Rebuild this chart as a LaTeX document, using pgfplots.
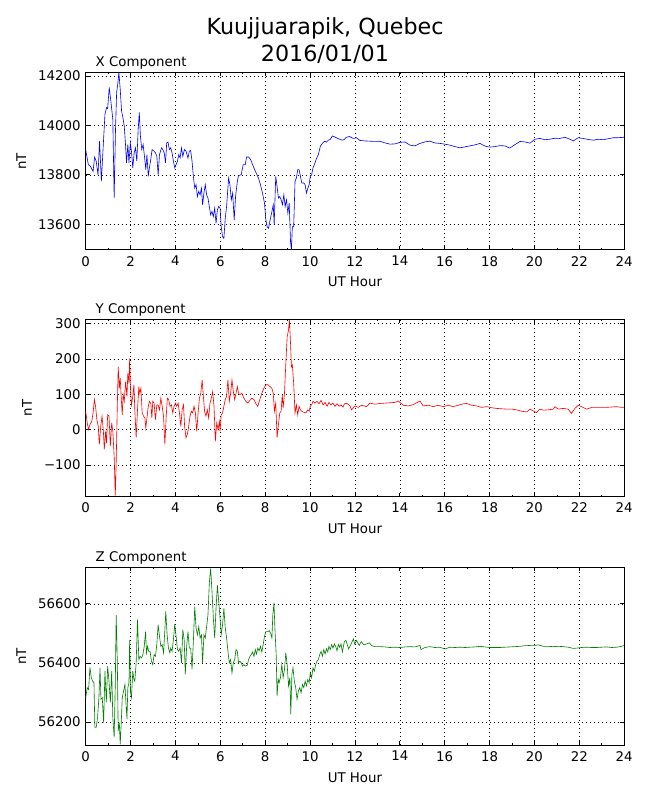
\documentclass[border=0pt]{standalone}
\usepackage{pgfplots}
\pgfplotsset{compat=1.18}
\usepackage{fontspec}
\setmainfont{DejaVu Sans}
\begin{document}
\begin{tikzpicture}
\path[use as bounding box] (0,0) rectangle (585pt,720pt);
\pgfplotsset{
  magstyle/.style={
    scale only axis, width=484.7pt, height=159.8pt,
    xmin=0, xmax=24, xtick={0,2,...,24}, minor x tick num=1,
    tick align=inside, major tick length=3.6pt, minor tick length=1.8pt,
    grid=major, major grid style={black, line width=0.5pt, dash pattern=on 0.9pt off 2.7pt},
    axis line style={line width=0.9pt},
    every tick/.style={black, line width=0.6pt},
    scaled y ticks=false,
    tick label style={font=\fontsize{12}{14}\selectfont},
    xticklabel style={yshift=-2pt},
    yticklabel style={xshift=-1pt, /pgf/number format/fixed},
    label style={font=\fontsize{12}{14}\selectfont},
    /pgf/number format/assume math mode=true,
    /pgf/number format/1000 sep={},
    xlabel={UT Hour}, ylabel={nT},
    xlabel style={at={(axis description cs:0.5,0)}, anchor=base, yshift=-33.3pt},
    ylabel shift=4pt,
    title style={at={(0,1)}, anchor=base west, xshift=5.5pt, yshift=-0.9pt, font=\fontsize{12}{14}\selectfont},
    anchor=south west,
  }
}
\node[anchor=base, font=\fontsize{20}{24}\selectfont] at (292.5pt,689.1pt) {Kuujjuarapik, Quebec};
\node[anchor=base, font=\fontsize{20}{24}\selectfont] at (292.5pt,664.5pt) {2016/01/01};

% X component
\begin{axis}[magstyle, at={(77.1pt,495pt)}, ymin=13496, ymax=14214,
  ytick={13600,13800,14000,14200}, title={X Component}]
\addplot[blue, line width=0.55pt] coordinates {
(0.00,13902)(0.12,13841)(0.21,13835)(0.27,13824)(0.33,13814)(0.40,13872)(0.47,13855)(0.55,13800)
(0.62,13936)(0.70,13774)(0.77,13896)(0.86,14045)(0.93,14072)(0.98,14068)(1.05,14153)(1.13,14092)
(1.21,14024)(1.27,13706)(1.33,13984)(1.38,14133)(1.44,14174)(1.48,14214)(1.54,14146)(1.60,14058)
(1.66,14031)(1.72,13997)(1.78,13916)(1.82,13848)(1.88,13923)(1.93,13848)(1.99,13929)(2.04,13896)
(2.10,13828)(2.16,13889)(2.22,13909)(2.28,13855)(2.34,13984)(2.39,14052)(2.44,13957)(2.50,13902)
(2.56,13923)(2.62,13875)(2.68,13821)(2.73,13882)(2.79,13794)(2.84,13828)(2.90,13862)(2.96,13902)
(3.04,13896)(3.11,13889)(3.17,13875)(3.23,13800)(3.29,13882)(3.38,13909)(3.44,13902)(3.50,13889)
(3.56,13848)(3.61,13929)(3.67,13932)(3.73,13902)(3.79,13909)(3.85,13889)(3.91,13855)(3.97,13828)
(4.03,13841)(4.09,13855)(4.15,13882)(4.21,13868)(4.27,13909)(4.33,13875)(4.40,13902)(4.47,13896)
(4.56,13868)(4.62,13896)(4.68,13898)(4.74,13855)(4.80,13794)(4.86,13746)(4.92,13760)(4.98,13712)
(5.04,13733)(5.10,13719)(5.16,13746)(5.21,13679)(5.27,13726)(5.33,13760)(5.39,13719)(5.45,13706)
(5.51,13672)(5.57,13638)(5.63,13652)(5.69,13631)(5.75,13665)(5.81,13604)(5.87,13658)(5.93,13672)
(5.99,13665)(6.04,13590)(6.10,13550)(6.16,13543)(6.22,13624)(6.28,13672)(6.37,13787)(6.43,13760)
(6.49,13699)(6.55,13726)(6.62,13618)(6.68,13712)(6.76,13774)(6.81,13797)(6.93,13800)(7.02,13841)
(7.11,13841)(7.17,13872)(7.26,13872)(7.35,13862)(7.44,13841)(7.53,13821)(7.61,13805)(7.70,13787)
(7.79,13760)(7.88,13726)(7.97,13685)(8.03,13618)(8.09,13590)(8.15,13584)(8.22,13618)(8.30,13652)
(8.36,13679)(8.40,13597)(8.47,13794)(8.53,13753)(8.59,13706)(8.65,13712)(8.71,13699)(8.77,13679)
(8.83,13719)(8.89,13672)(8.95,13699)(9.01,13645)(9.07,13685)(9.13,13529)(9.17,13497)(9.21,13590)
(9.27,13590)(9.33,13774)(9.39,13787)(9.45,13821)(9.51,13821)(9.57,13794)(9.63,13767)(9.72,13767)
(9.78,13760)(9.84,13726)(9.90,13746)(9.96,13760)(10.01,13794)(10.07,13800)(10.13,13828)(10.19,13841)
(10.28,13864)(10.37,13882)(10.46,13916)(10.55,13927)(10.64,13936)(10.73,13932)(10.81,13940)(10.90,13943)
(10.99,13957)(11.08,13954)(11.17,13950)(11.26,13946)(11.35,13943)(11.44,13940)(11.53,13943)
(11.60,13951)(11.75,13955)(11.93,13947)(12.07,13950)(12.22,13939)(12.45,13937)(12.67,13936)(12.90,13935)
(13.10,13936)(13.34,13929)(13.56,13924)(13.78,13925)(14.00,13931)(14.23,13933)(14.45,13920)(14.67,13917)
(14.90,13927)(15.12,13933)(15.34,13936)(15.56,13929)(15.79,13927)(16.00,13924)(16.23,13920)(16.46,13914)
(16.68,13909)(16.90,13913)(17.12,13917)(17.35,13921)(17.57,13927)(17.80,13916)(18.00,13912)(18.24,13914)
(18.46,13918)(18.68,13917)(18.90,13908)(19.13,13922)(19.35,13935)(19.57,13933)(19.80,13928)(20.02,13944)
(20.24,13947)(20.47,13942)(20.69,13944)(20.91,13948)(21.13,13947)(21.36,13952)(21.58,13944)(21.73,13937)
(21.95,13950)(22.17,13947)(22.40,13943)(22.62,13940)(22.84,13944)(23.06,13942)(23.29,13946)(23.51,13950)
(23.73,13950)(24.00,13952)
};
\end{axis}

% Y component
\begin{axis}[magstyle, at={(77.1pt,273pt)}, ymin=-190, ymax=313,
  ytick={-100,0,100,200,300}, yticklabels={−100,0,100,200,300}, title={Y Component}]
\addplot[red, line width=0.55pt] coordinates {
(0.00,52)(0.07,19)(0.13,0)(0.19,14)(0.27,23)(0.33,47)(0.39,85)(0.44,66)(0.50,28)(0.56,9)
(0.61,-42)(0.67,9)(0.73,38)(0.79,-5)(0.83,-56)(0.89,-5)(0.93,-38)(0.98,42)(1.04,38)(1.10,-47)
(1.16,19)(1.21,-5)(1.27,-75)(1.32,-187)(1.36,-94)(1.41,66)(1.45,178)(1.50,117)(1.54,146)(1.59,85)
(1.63,42)(1.67,99)(1.72,80)(1.78,136)(1.84,94)(1.88,160)(1.93,131)(1.96,202)(2.00,113)(2.04,70)
(2.10,94)(2.15,127)(2.19,56)(2.25,-23)(2.31,56)(2.37,122)(2.41,103)(2.46,117)(2.52,47)(2.58,38)
(2.64,33)(2.68,5)(2.74,38)(2.79,66)(2.84,80)(2.90,75)(2.95,33)(2.99,80)(3.05,75)(3.11,28)
(3.17,70)(3.23,70)(3.29,56)(3.35,89)(3.41,66)(3.47,38)(3.53,-42)(3.59,38)(3.64,89)(3.70,85)
(3.76,66)(3.82,70)(3.88,47)(3.94,66)(4.00,75)(4.06,66)(4.12,75)(4.18,47)(4.24,9)(4.30,56)
(4.36,70)(4.41,9)(4.47,-23)(4.53,-14)(4.59,9)(4.65,38)(4.71,52)(4.77,47)(4.83,66)(4.89,47)
(4.95,-5)(5.01,47)(5.07,89)(5.13,103)(5.19,141)(5.24,99)(5.30,52)(5.36,38)(5.42,56)(5.48,33)
(5.54,75)(5.60,89)(5.66,108)(5.72,66)(5.78,-33)(5.84,19)(5.90,0)(5.96,23)(5.99,-5)(6.04,42)
(6.10,47)(6.16,66)(6.22,85)(6.28,94)(6.34,141)(6.40,80)(6.46,103)(6.52,141)(6.58,108)(6.64,85)
(6.70,103)(6.76,122)(6.81,103)(6.87,99)(6.96,103)(7.05,89)(7.14,80)(7.23,75)(7.32,83)(7.41,89)
(7.50,85)(7.59,73)(7.67,66)(7.76,85)(7.85,103)(7.94,117)(8.03,127)(8.12,127)(8.21,122)(8.30,117)
(8.36,103)(8.41,52)(8.47,75)(8.53,-23)(8.59,14)(8.65,47)(8.71,52)(8.76,99)(8.80,61)(8.86,103)
(8.92,188)(8.98,263)(9.04,282)(9.08,310)(9.13,244)(9.17,178)(9.21,183)(9.27,131)(9.33,47)(9.39,70)
(9.45,42)(9.51,66)(9.57,56)(9.63,52)(9.72,49)(9.81,47)(9.90,56)(9.96,52)(10.01,66)(10.07,70)
(10.13,80)(10.22,75)(10.31,80)(10.40,73)(10.49,83)(10.58,70)(10.67,77)(10.76,66)(10.84,77)(10.93,70)
(11.02,75)(11.11,66)(11.20,73)(11.29,66)(11.38,70)(11.47,64)(11.53,73)
(11.63,75)(11.78,67)(11.85,56)(12.00,67)(12.15,63)(12.30,69)(12.52,65)(12.67,75)(12.89,72)(13.11,74)
(13.34,75)(13.56,76)(13.78,77)(13.93,81)(14.15,69)(14.38,67)(14.60,71)(14.90,81)(15.04,67)(15.27,69)
(15.49,65)(15.71,69)(15.94,65)(16.16,69)(16.38,65)(16.60,69)(16.83,73)(16.98,74)(17.20,69)(17.42,67)
(17.64,63)(17.87,65)(18.09,62)(18.31,60)(18.53,59)(18.76,58)(18.98,58)(19.20,56)(19.43,52)(19.65,50)
(19.80,58)(19.95,53)(20.09,48)(20.24,58)(20.39,55)(20.61,56)(20.84,58)(20.91,65)(21.06,58)(21.28,60)
(21.50,58)(21.65,46)(21.80,60)(21.95,69)(22.10,65)(22.32,58)(22.55,63)(22.77,63)(22.99,63)(23.21,63)
(23.44,64)(23.66,65)(23.88,63)(24.00,63)
};
\end{axis}

% Z component
\begin{axis}[magstyle, at={(77.1pt,49.5pt)}, ymin=56122, ymax=56723,
  ytick={56200,56400,56600}, title={Z Component}]
\addplot[black!50!green, line width=0.55pt] coordinates {
(0.00,56282)(0.07,56316)(0.13,56310)(0.19,56385)(0.25,56350)(0.31,56338)(0.37,56333)(0.41,56182)
(0.47,56182)(0.53,56215)(0.59,56282)(0.64,56383)(0.68,56277)(0.74,56282)(0.80,56198)(0.86,56372)
(0.92,56266)(0.98,56389)(1.04,56338)(1.10,56266)(1.16,56372)(1.21,56215)(1.27,56148)(1.32,56327)
(1.36,56562)(1.41,56406)(1.45,56170)(1.50,56198)(1.54,56124)(1.59,56204)(1.63,56282)(1.69,56305)
(1.75,56327)(1.79,56271)(1.84,56210)(1.88,56316)(1.93,56333)(1.96,56478)(2.00,56299)(2.04,56282)
(2.10,56372)(2.15,56344)(2.19,56338)(2.25,56400)(2.31,56546)(2.37,56411)(2.43,56422)(2.49,56417)
(2.55,56428)(2.61,56456)(2.67,56506)(2.71,56434)(2.76,56456)(2.81,56439)(2.87,56439)(2.93,56406)
(2.99,56394)(3.05,56428)(3.11,56422)(3.17,56462)(3.23,56529)(3.29,56490)(3.35,56456)(3.41,56462)
(3.47,56434)(3.53,56512)(3.57,56574)(3.63,56495)(3.69,56450)(3.75,56434)(3.79,56450)(3.85,56439)
(3.91,56478)(3.97,56531)(4.03,56490)(4.09,56445)(4.15,56439)(4.21,56450)(4.27,56400)(4.33,56512)
(4.39,56478)(4.44,56361)(4.50,56456)(4.56,56506)(4.62,56450)(4.68,56450)(4.74,56378)(4.80,56473)
(4.86,56590)(4.92,56518)(4.98,56495)(5.04,56523)(5.10,56484)(5.16,56495)(5.21,56400)(5.27,56495)
(5.33,56484)(5.39,56523)(5.45,56562)(5.51,56669)(5.57,56720)(5.63,56641)(5.69,56551)(5.75,56484)
(5.81,56585)(5.87,56663)(5.93,56607)(5.99,56551)(6.04,56495)(6.10,56529)(6.16,56585)(6.22,56518)
(6.28,56484)(6.34,56439)(6.40,56400)(6.46,56411)(6.52,56366)(6.58,56400)(6.64,56411)(6.70,56445)
(6.76,56439)(6.81,56400)(6.87,56406)(6.93,56400)(6.99,56389)(7.05,56394)(7.11,56389)(7.20,56392)
(7.26,56411)(7.32,56422)(7.38,56428)(7.44,56437)(7.50,56422)(7.56,56445)(7.61,56430)(7.67,56450)
(7.73,56441)(7.79,56456)(7.85,56437)(7.91,56462)(7.97,56490)(8.03,56506)(8.12,56506)(8.18,56509)
(8.24,56501)(8.30,56484)(8.34,56562)(8.39,56603)(8.44,56506)(8.49,56428)(8.53,56288)(8.58,56344)
(8.62,56333)(8.68,56350)(8.74,56394)(8.80,56350)(8.86,56378)(8.92,56434)(8.98,56394)(9.04,56322)
(9.10,56350)(9.14,56226)(9.19,56361)(9.24,56383)(9.30,56338)(9.36,56316)(9.42,56277)(9.48,56305)
(9.54,56316)(9.60,56299)(9.66,56327)(9.72,56316)(9.78,56338)(9.84,56322)(9.90,56344)(9.96,56333)
(10.01,56366)(10.07,56350)(10.13,56383)(10.19,56372)(10.25,56394)(10.31,56406)(10.37,56411)(10.43,56428)
(10.49,56439)(10.55,56422)(10.61,56445)(10.67,56430)(10.73,56448)(10.79,56437)(10.84,56456)(10.90,56445)
(10.96,56462)(11.02,56450)(11.08,56464)(11.14,56456)(11.20,56441)(11.26,56462)(11.32,56453)(11.38,56464)
(11.44,56437)(11.53,56473)
(11.60,56476)(11.72,56447)(11.81,56461)(11.93,56481)(11.99,56464)(12.07,56476)(12.19,56459)(12.28,56472)
(12.40,56461)(12.52,56464)(12.64,56468)(12.74,56459)(12.89,56455)(13.11,56455)(13.34,56454)(13.56,56452)
(13.78,56453)(14.01,56452)(14.23,56454)(14.45,56455)(14.67,56454)(14.90,56459)(14.94,56445)(15.12,56452)
(15.34,56455)(15.56,56452)(15.79,56453)(16.01,56447)(16.23,56453)(16.46,56452)(16.68,56453)(16.90,56452)
(17.12,56453)(17.35,56454)(17.57,56456)(17.79,56454)(18.02,56452)(18.24,56452)(18.46,56452)(18.68,56453)
(18.91,56454)(19.13,56455)(19.35,56456)(19.57,56458)(19.80,56459)(20.02,56459)(20.17,56461)(20.39,56456)
(20.61,56456)(20.84,56455)(21.06,56456)(21.28,56455)(21.51,56453)(21.73,56449)(21.88,56450)(22.10,56452)
(22.32,56453)(22.55,56452)(22.77,56452)(22.99,56453)(23.21,56454)(23.44,56452)(23.66,56453)(23.88,56456)
(24.00,56459)
};
\end{axis}
\end{tikzpicture}
\end{document}
